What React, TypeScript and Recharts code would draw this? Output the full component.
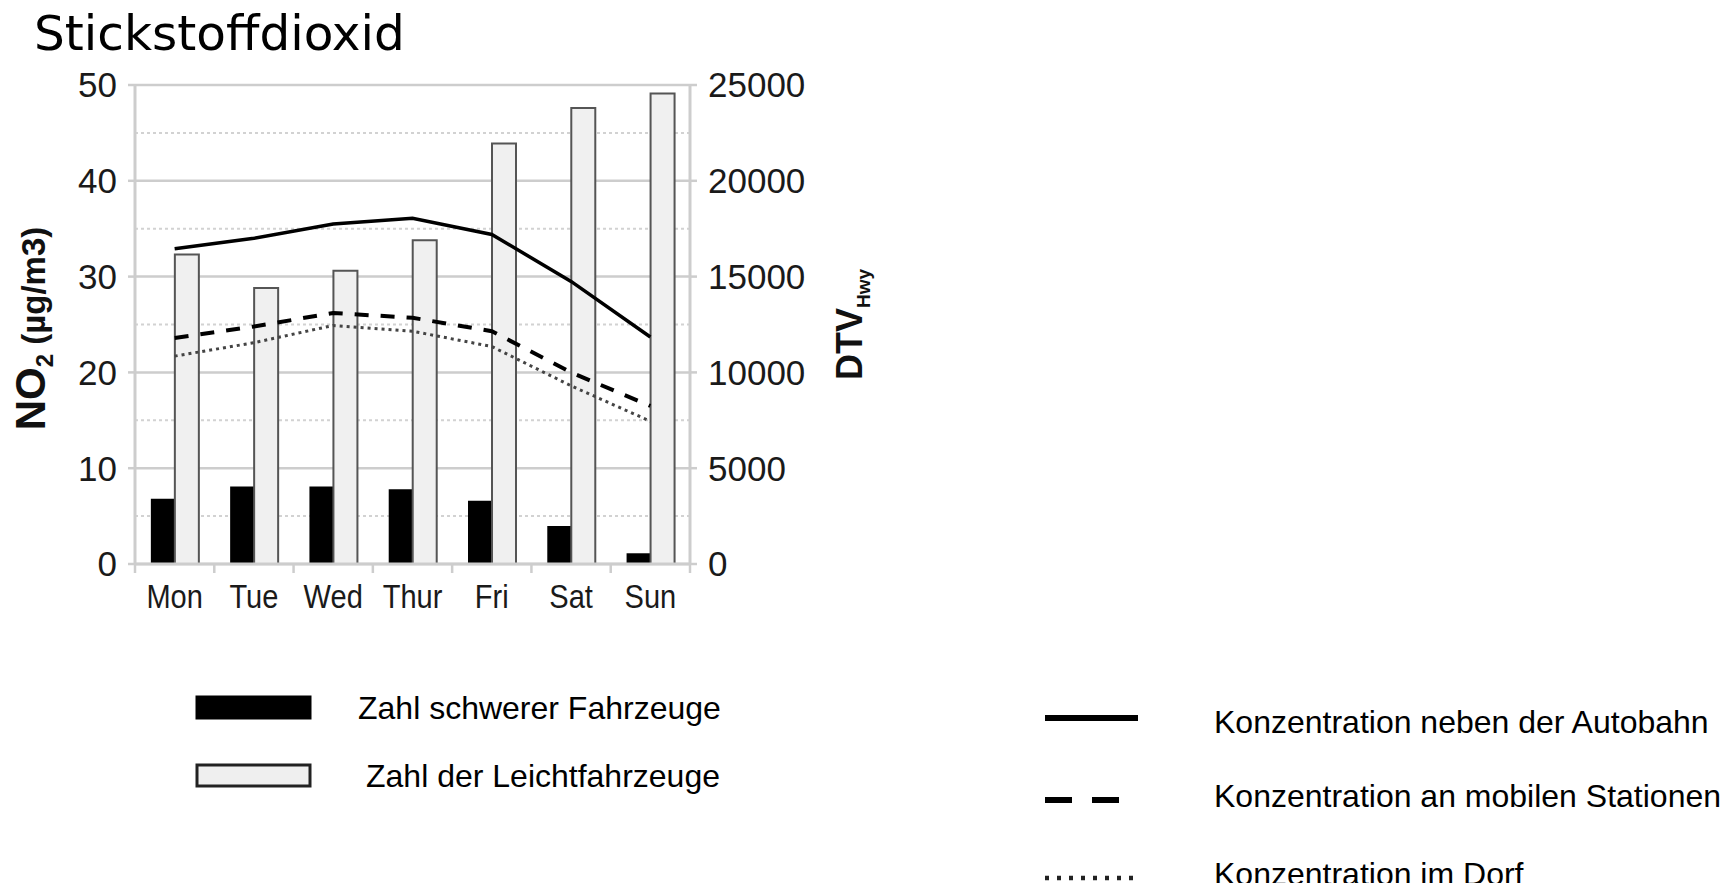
import React from 'react';
import { ComposedChart, Bar, Line, XAxis, YAxis, CartesianGrid, Legend } from 'recharts';

const days = ['Mon', 'Tue', 'Wed', 'Thur', 'Fri', 'Sat', 'Sun'];
const heavyVehicles = [3400, 4050, 4050, 3900, 3300, 1980, 560];
const lightVehicles = [16150, 14400, 15300, 16900, 21950, 23800, 24550];
const no2Autobahn = [32.9, 34.0, 35.5, 36.1, 34.4, 29.5, 23.7];
const no2Mobile = [23.6, 24.8, 26.2, 25.7, 24.3, 20.0, 16.5];
const no2Village = [21.7, 23.1, 24.9, 24.3, 22.7, 18.6, 14.9];

const no2Ticks = [0, 10, 20, 30, 40, 50];
const no2MinorTicks = [5, 15, 25, 35, 45];
const dtvTicks = [0, 5000, 10000, 15000, 20000, 25000];

const title = 'Stickstoffdioxid';
const barNames = { heavy: 'Zahl schwerer Fahrzeuge', light: 'Zahl der Leichtfahrzeuge' };
const lineNames = {
  autobahn: 'Konzentration neben der Autobahn',
  mobile: 'Konzentration an mobilen Stationen',
  village: 'Konzentration im Dorf',
};
const barOrder = ['heavy', 'light'];
const lineOrder = ['autobahn', 'mobile', 'village'];

const data = days.map((day, i) => ({
  day,
  heavy: heavyVehicles[i],
  light: lightVehicles[i],
  autobahn: no2Autobahn[i],
  mobile: no2Mobile[i],
  village: no2Village[i],
}));

const W = 1713;
const H = 875;
const CH = 883;
const GRID = '#cdcdcd';
const TICK_FONT = "'Liberation Sans', Arial, sans-serif";

const XTick = (props: any) => {
  const { x, y, payload, index, visibleTicksCount, width } = props;
  const half = payload && typeof payload.offset === 'number' && payload.offset > 0
    ? payload.offset
    : width / visibleTicksCount / 2;
  return (
    <g>
      <line x1={x - half} x2={x - half} y1={y} y2={y + 9} stroke={GRID} strokeWidth={2.5} />
      {index === visibleTicksCount - 1 && (
        <line x1={x + half} x2={x + half} y1={y} y2={y + 9} stroke={GRID} strokeWidth={2.5} />
      )}
      <text
        transform={`translate(${x},${y + 44}) scale(0.88,1)`}
        textAnchor="middle"
        fontSize={33}
        fontFamily={TICK_FONT}
        fill="#1a1a1a"
      >
        {payload.value}
      </text>
    </g>
  );
};

const LeftLabel = (props: any) => {
  const vb = props.viewBox || { x: 0, y: 0, width: 0, height: 0 };
  const cx = vb.x + 37;
  const cy = vb.y + vb.height / 2 + 4;
  return (
    <text
      x={cx}
      y={cy}
      transform={`rotate(-90 ${cx} ${cy})`}
      textAnchor="middle"
      fontFamily={TICK_FONT}
      fontWeight="bold"
      fill="#111"
    >
      <tspan fontSize={42}>NO</tspan>
      <tspan fontSize={24} dy={8}>2</tspan>
      <tspan fontSize={33} dy={-8}> (µg/m3)</tspan>
    </text>
  );
};

const RightLabel = (props: any) => {
  const vb = props.viewBox || { x: 0, y: 0, width: 0, height: 0 };
  const cx = vb.x + 172;
  const cy = vb.y + vb.height / 2;
  return (
    <text
      x={cx}
      y={cy}
      transform={`rotate(-90 ${cx} ${cy})`}
      textAnchor="middle"
      fontFamily={TICK_FONT}
      fontWeight="bold"
      fill="#111"
    >
      <tspan fontSize={36}>DTV</tspan>
      <tspan fontSize={19} dy={8}>Hwy</tspan>
    </text>
  );
};

const barLegendStyle: Record<string, any> = {
  heavy: { fill: '#000', stroke: '#000' },
  light: { fill: '#efefef', stroke: '#222' },
};
const lineLegendStyle: Record<string, any> = {
  autobahn: { dash: undefined, width: 6, color: '#000', len: 93, ly: 710, ty: 725 },
  mobile: { dash: '27 20', width: 6, color: '#000', len: 74, ly: 792, ty: 799 },
  village: { dash: '4 8', width: 4.5, color: '#222', len: 92, ly: 870, ty: 877 },
};

const LegendContent = (props: any) => {
  const payload: any[] = props.payload || [];
  const byKey: Record<string, any> = {};
  payload.forEach((p) => {
    byKey[p.dataKey] = p;
  });
  const bars = barOrder.filter((k) => byKey[k]).map((k) => byKey[k]);
  const lines = lineOrder.filter((k) => byKey[k]).map((k) => byKey[k]);
  return (
    <svg width={W} height={CH} style={{ overflow: 'visible', display: 'block' }}>
      {bars.map((p, i) => {
        const s = barLegendStyle[p.dataKey];
        const ry = 689 + i * 68;
        return (
          <g key={p.dataKey}>
            <rect x={189} y={ry} width={113} height={21} fill={s.fill} stroke={s.stroke} strokeWidth={3} />
            <text x={350 + i * 8} y={ry + 22} fontSize={32} fontFamily={TICK_FONT} fill="#000">
              {p.value}
            </text>
          </g>
        );
      })}
      {lines.map((p) => {
        const s = lineLegendStyle[p.dataKey];
        return (
          <g key={p.dataKey}>
            <line
              x1={1037}
              x2={1037 + s.len}
              y1={s.ly}
              y2={s.ly}
              stroke={s.color}
              strokeWidth={s.width}
              strokeDasharray={s.dash}
            />
            <text x={1206} y={s.ty} fontSize={32} fontFamily={TICK_FONT} fill="#000">
              {p.value}
            </text>
          </g>
        );
      })}
    </svg>
  );
};

export default function App() {
  return (
    <div style={{ position: 'relative', width: W, height: H }}>
      <ComposedChart
        width={W}
        height={CH}
        data={data}
        margin={{ top: 77, right: 831, bottom: 267, left: 0 }}
        barCategoryGap="20%"
        barGap={0}
      >
        <CartesianGrid
          yAxisId="no2"
          vertical={false}
          horizontalValues={no2MinorTicks}
          stroke="#d2d2d2"
          strokeWidth={2}
          strokeDasharray="3 3"
        />
        <CartesianGrid yAxisId="no2" vertical={false} stroke={GRID} strokeWidth={2.5} />
        <XAxis
          dataKey="day"
          height={60}
          interval={0}
          tickSize={0}
          tickMargin={0}
          tickLine={false}
          axisLine={{ stroke: GRID, strokeWidth: 3 }}
          tick={<XTick />}
        />
        <YAxis
          yAxisId="no2"
          width={127}
          domain={[0, 50]}
          ticks={no2Ticks}
          interval={0}
          tickSize={7}
          tickMargin={11}
          axisLine={{ stroke: GRID, strokeWidth: 3 }}
          tickLine={{ stroke: GRID, strokeWidth: 2.5 }}
          tick={{ fontSize: 35, fill: '#1a1a1a', fontFamily: TICK_FONT }}
          label={{ content: <LeftLabel /> }}
        />
        <YAxis
          yAxisId="dtv"
          orientation="right"
          width={200}
          domain={[0, 25000]}
          ticks={dtvTicks}
          interval={0}
          tickSize={7}
          tickMargin={11}
          axisLine={{ stroke: GRID, strokeWidth: 3 }}
          tickLine={{ stroke: GRID, strokeWidth: 2.5 }}
          tick={{ fontSize: 35, fill: '#1a1a1a', fontFamily: TICK_FONT }}
          label={{ content: <RightLabel /> }}
        />
        <Bar yAxisId="dtv" dataKey="heavy" name={barNames.heavy} fill="#000" isAnimationActive={false} />
        <Bar
          yAxisId="dtv"
          dataKey="light"
          name={barNames.light}
          fill="#f0f0f0"
          stroke="#555"
          strokeWidth={2}
          isAnimationActive={false}
        />
        <Line
          yAxisId="no2"
          type="linear"
          dataKey="autobahn"
          name={lineNames.autobahn}
          stroke="#000"
          strokeWidth={3.5}
          dot={false}
          isAnimationActive={false}
        />
        <Line
          yAxisId="no2"
          type="linear"
          dataKey="mobile"
          name={lineNames.mobile}
          stroke="#000"
          strokeWidth={4}
          strokeDasharray="14 12"
          dot={false}
          isAnimationActive={false}
        />
        <Line
          yAxisId="no2"
          type="linear"
          dataKey="village"
          name={lineNames.village}
          stroke="#444"
          strokeWidth={3}
          strokeDasharray="3 4"
          dot={false}
          isAnimationActive={false}
        />
        <Legend
          layout="vertical"
          align="center"
          verticalAlign="middle"
          wrapperStyle={{ left: 0, top: 0, width: W, height: CH, pointerEvents: 'none' }}
          content={<LegendContent />}
        />
      </ComposedChart>
      <svg
        width={500}
        height={70}
        style={{ position: 'absolute', left: 0, top: 0, overflow: 'visible' }}
      >
        <text x={26} y={42} fontSize={48.5} fontFamily="'DejaVu Sans', Verdana, sans-serif" fill="#000">
          {title}
        </text>
      </svg>
    </div>
  );
}
